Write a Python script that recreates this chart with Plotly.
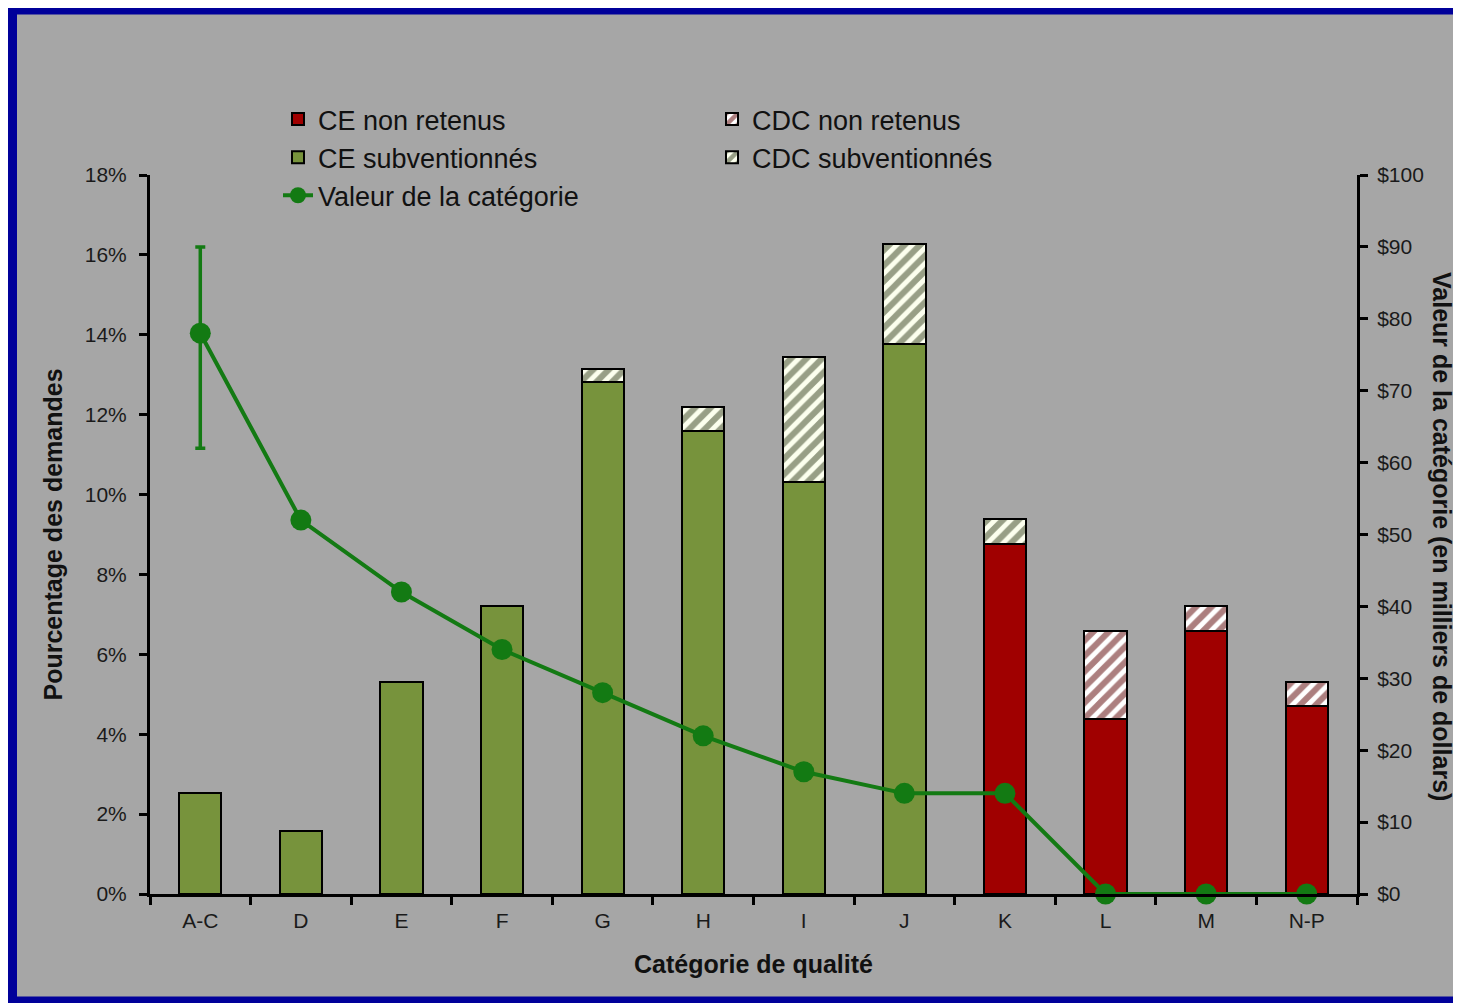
import plotly.graph_objects as go

categories = ["A-C", "D", "E", "F", "G", "H", "I", "J", "K", "L", "M", "N-P"]
ce_non_retenus = [None, None, None, None, None, None, None, None, 8.76, 4.38, 6.58, 4.71]
ce_subventionnes = [2.53, 1.58, 5.31, 7.21, 12.82, 11.59, 10.32, 13.77, None, None, None, None]
cdc_non_retenus = [None, None, None, None, None, None, None, None, None, 2.20, 0.63, 0.60]
cdc_subventionnes = [None, None, None, None, 0.32, 0.60, 3.12, 2.50, 0.63, None, None, None]
valeur = [78, 52, 42, 34, 28, 22, 17, 14, 14, 0, 0, 0]
valeur_err_plus = [12, None, None, None, None, None, None, None, None, None, None, None]
valeur_err_minus = [16, None, None, None, None, None, None, None, None, None, None, None]
left_ticks = [0, 2, 4, 6, 8, 10, 12, 14, 16, 18]
left_tick_labels = ["0%", "2%", "4%", "6%", "8%", "10%", "12%", "14%", "16%", "18%"]
right_ticks = [0, 10, 20, 30, 40, 50, 60, 70, 80, 90, 100]
right_tick_labels = ["$0", "$10", "$20", "$30", "$40", "$50", "$60", "$70", "$80", "$90", "$100"]

RED = "#A00000"
GREEN_BAR = "#77933C"
GREEN_LINE = "#137A13"
FONT = "Liberation Sans, Arial, sans-serif"
W, H = 1461, 1003
ML, MR, MT, MB = 142, 112, 167, 117
PW, PH = W - ML - MR, H - MT - MB


def px_x(px):
    return (px - ML) / PW


def px_y(py):
    return (H - MB - py) / PH


fig = go.Figure()
bar_line = dict(color="black", width=2)
fig.add_trace(go.Bar(x=categories, y=ce_non_retenus, name="CE non retenus",
                     marker=dict(color=RED, line=bar_line), width=0.42, legend="legend"))
fig.add_trace(go.Bar(x=categories, y=ce_subventionnes, name="CE subventionnés",
                     marker=dict(color=GREEN_BAR, line=bar_line), width=0.42, legend="legend"))
fig.add_trace(go.Bar(x=categories, y=cdc_non_retenus, name="CDC non retenus",
                     marker=dict(color="white", line=bar_line,
                                 pattern=dict(shape="/", fgcolor="#5A0000", bgcolor="#FFFFFF",
                                              size=11, solidity=0.55)),
                     width=0.42, legend="legend2"))
fig.add_trace(go.Bar(x=categories, y=cdc_subventionnes, name="CDC subventionnés",
                     marker=dict(color="white", line=bar_line,
                                 pattern=dict(shape="/", fgcolor="#343F1E", bgcolor="#FCFFEE",
                                              size=11, solidity=0.55)),
                     width=0.42, legend="legend2"))
fig.add_trace(go.Scatter(x=categories, y=valeur, name="Valeur de la catégorie", yaxis="y2",
                         mode="lines+markers", cliponaxis=False,
                         line=dict(color=GREEN_LINE, width=4),
                         marker=dict(color=GREEN_LINE, size=21),
                         error_y=dict(type="data", symmetric=False, array=valeur_err_plus,
                                      arrayminus=valeur_err_minus, color=GREEN_LINE,
                                      thickness=3.5, width=5),
                         legend="legend"))

tick_font = dict(family=FONT, size=21, color="#1A1A1A")
title_font = dict(family=FONT, size=25, color="#111111")
legend_font = dict(family=FONT, size=27, color="#111111")

fig.update_layout(
    width=W, height=H,
    margin=dict(l=ML, r=MR, t=MT, b=MB, autoexpand=False),
    barmode="stack",
    paper_bgcolor="#ECECEC",
    plot_bgcolor="rgba(0,0,0,0)",
    font=dict(family=FONT, color="#111111"),
    xaxis=dict(type="category", range=[-0.5, 11.5], showline=True, linecolor="black", linewidth=3,
               ticks="outside", tickson="boundaries", ticklen=8, tickwidth=2.5, tickcolor="black",
               showgrid=False, zeroline=False, tickfont=tick_font, ticklabelstandoff=6,
               title=dict(text="<b>Catégorie de qualité</b>", font=title_font, standoff=25)),
    yaxis=dict(range=[0, 18], tickmode="array", tickvals=left_ticks, ticktext=left_tick_labels,
               showline=True, linecolor="black", linewidth=3, ticks="outside", ticklen=8,
               tickwidth=2.5, tickcolor="black", showgrid=False, zeroline=False,
               tickfont=tick_font, ticklabelstandoff=8,
               title=dict(text="<b>Pourcentage des demandes</b>", font=title_font, standoff=16)),
    yaxis2=dict(range=[0, 100], tickmode="array", tickvals=right_ticks, ticktext=right_tick_labels,
                overlaying="y", side="right",
                showline=True, linecolor="black", linewidth=3, ticks="outside", ticklen=8,
                tickwidth=2.5, tickcolor="black", showgrid=False, zeroline=False,
                tickfont=tick_font, ticklabelstandoff=5),
    legend=dict(x=px_x(270), y=px_y(87), xanchor="left", yanchor="top", orientation="v",
                traceorder="normal", bgcolor="rgba(0,0,0,0)", font=legend_font,
                tracegroupgap=0),
    legend2=dict(x=px_x(704), y=px_y(87), xanchor="left", yanchor="top", orientation="v",
                 traceorder="normal", bgcolor="rgba(0,0,0,0)", font=legend_font,
                 tracegroupgap=0),
    shapes=[dict(type="rect", xref="paper", yref="paper", layer="below",
                 x0=px_x(4.5), x1=px_x(1500), y0=px_y(993), y1=px_y(2),
                 line=dict(color="#00009A", width=9), fillcolor="#A6A6A6")],
    annotations=[dict(text="<b>Valeur de la catégorie (en milliers de dollars)</b>", textangle=90,
                      xref="paper", yref="paper", x=px_x(1434), y=px_y(528),
                      xanchor="center", yanchor="middle", showarrow=False, font=title_font)],
)

fig.write_html("out.html")
